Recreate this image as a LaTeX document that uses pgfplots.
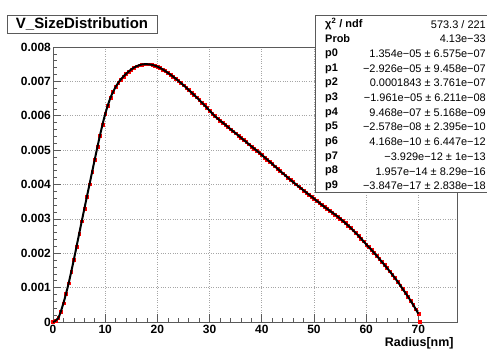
\documentclass[border=0pt]{standalone}
\usepackage{pgfplots}
\usepackage{pgfplotstable}
\pgfplotsset{compat=1.18}
\usepackage{fontspec}
\setmainfont{Liberation Sans}
\pgfplotstableread{
x y
0 0.00
0.5 0.03
1 0.12
1.5 0.30
2 0.55
2.5 0.83
3 1.13
3.5 1.46
4 1.82
4.5 2.19
5 2.56
5.5 2.93
6 3.29
6.5 3.65
7 4.01
7.5 4.37
8 4.73
8.5 5.09
9 5.43
9.5 5.75
10 6.05
10.5 6.30
11 6.52
11.5 6.70
12 6.84
12.5 6.96
13 7.06
13.5 7.14
14 7.22
14.5 7.29
15 7.35
15.5 7.40
16 7.44
16.5 7.47
17 7.49
17.5 7.50
18 7.50
18.5 7.50
19 7.48
19.5 7.46
20 7.43
20.5 7.39
21 7.35
21.5 7.30
22 7.25
22.5 7.20
23 7.14
23.5 7.08
24 7.02
24.5 6.96
25 6.89
25.5 6.82
26 6.75
26.5 6.68
27 6.61
27.5 6.54
28 6.46
28.5 6.39
29 6.31
29.5 6.23
30 6.15
30.5 6.07
31 5.99
31.5 5.93
32 5.86
32.5 5.80
33 5.74
33.5 5.67
34 5.61
34.5 5.55
35 5.49
35.5 5.42
36 5.36
36.5 5.30
37 5.24
37.5 5.17
38 5.11
38.5 5.05
39 4.99
39.5 4.92
40 4.86
40.5 4.79
41 4.73
41.5 4.66
42 4.60
42.5 4.53
43 4.46
43.5 4.40
44 4.33
44.5 4.27
45 4.20
45.5 4.14
46 4.07
46.5 4.01
47 3.95
47.5 3.89
48 3.83
48.5 3.77
49 3.71
49.5 3.65
50 3.59
50.5 3.53
51 3.47
51.5 3.41
52 3.35
52.5 3.30
53 3.24
53.5 3.18
54 3.13
54.5 3.07
55 3.01
55.5 2.95
56 2.88
56.5 2.81
57 2.74
57.5 2.67
58 2.59
58.5 2.51
59 2.43
59.5 2.35
60 2.26
60.5 2.18
61 2.10
61.5 2.02
62 1.93
62.5 1.84
63 1.75
63.5 1.66
64 1.57
64.5 1.48
65 1.38
65.5 1.28
66 1.18
66.5 1.07
67 0.96
67.5 0.85
68 0.74
68.5 0.62
69 0.50
69.5 0.37
70 0.24
70.2 0.00
}\datatable
\pgfplotstableread{
x y
0 0.00
1 0.11
2 0.55
3 1.13
4 1.82
5 2.56
6 3.29
7 4.01
8 4.73
9 5.43
10 6.05
11 6.52
12 6.84
13 7.06
14 7.22
15 7.35
16 7.44
17 7.49
18 7.50
19 7.48
20 7.43
21 7.35
22 7.25
23 7.14
24 7.02
25 6.89
26 6.75
27 6.61
28 6.46
29 6.31
30 6.15
31 5.99
32 5.86
33 5.74
34 5.61
35 5.49
36 5.36
37 5.24
38 5.11
39 4.99
40 4.86
41 4.73
42 4.60
43 4.46
44 4.33
45 4.20
46 4.07
47 3.95
48 3.83
49 3.71
50 3.59
51 3.47
52 3.35
53 3.24
54 3.13
55 3.01
56 2.88
57 2.74
58 2.59
59 2.43
60 2.26
61 2.10
62 1.93
63 1.75
64 1.57
65 1.38
66 1.18
67 0.96
68 0.74
69 0.50
70 0.24
}\fittable
\definecolor{framegray}{RGB}{90,90,90}
\pgfplotsset{myaxis/.style={
  at={(53bp,27bp)}, anchor=south west,
  scale only axis, width=404bp, height=275bp,
  xmin=0, xmax=77.4, ymin=0, ymax=8,
  clip=false}}
\begin{document}
\begin{tikzpicture}[x=1bp,y=1bp]
\useasboundingbox (0,0) rectangle (487,349);
\fill[white] (0,0) rectangle (487,349);
\begin{scope}
\clip (0,0) rectangle (487,349);
\begin{axis}[
  myaxis,
  xtick={0,10,20,30,40,50,60,70},
  xticklabels={0,10,20,30,40,50,60,70},
  ytick={0,1,2,3,4,5,6,7,8},
  yticklabels={0,0.001,0.002,0.003,0.004,0.005,0.006,0.007,0.008},
  minor x tick num=4, minor y tick num=4,
  tick pos=left, tick align=inside,
  major tick length=8bp, minor tick length=4bp,
  every tick/.style={framegray, line width=0.6bp},
  axis line style={framegray, line width=0.9bp},
  grid=major,
  major grid style={gray!70, dotted, line width=0.6bp},
  ticklabel style={font=\fontsize{12}{13}\selectfont\bfseries},
  yticklabel style={inner sep=2bp},
  xticklabel style={inner sep=3bp},
]
\addplot[only marks, mark=square*, mark size=1.4bp, red, mark options={draw=red, fill=red}] table[x=x,y=y] {\datatable};
\end{axis}
\begin{axis}[myaxis, hide axis]
\addplot[black, line width=2bp, smooth] table[x=x,y=y] {\fittable};
\end{axis}
% title box
\draw[framegray, line width=0.8bp, fill=white] (7,316) rectangle (157,334);
\node[font=\fontsize{15}{16}\selectfont\bfseries] at (82,325) {V\_SizeDistribution};
% x label
\node[anchor=base east, font=\fontsize{12.5}{13}\selectfont\bfseries] at (457,3) {Radius[nm]};
% stats box
\draw[framegray, line width=0.8bp, fill=white] (315,157) rectangle (500,334);
\begin{scope}[every node/.style={font=\fontsize{11}{12}\selectfont, inner sep=0pt}]
\node[anchor=west] at (325,324.7) {\textbf{χ\textsuperscript{2} / ndf}};
\node[anchor=east] at (486,324.7) {573.3 / 221};
\node[anchor=west] at (325,310.0) {\textbf{Prob}};
\node[anchor=east] at (486,310.0) {4.13e−33};
\node[anchor=west] at (325,295.3) {\textbf{p0}};
\node[anchor=east] at (486,295.3) {1.354e−05 ± 6.575e−07};
\node[anchor=west] at (325,280.6) {\textbf{p1}};
\node[anchor=east] at (486,280.6) {−2.926e−05 ± 9.458e−07};
\node[anchor=west] at (325,265.9) {\textbf{p2}};
\node[anchor=east] at (486,265.9) {0.0001843 ± 3.761e−07};
\node[anchor=west] at (325,251.2) {\textbf{p3}};
\node[anchor=east] at (486,251.2) {−1.961e−05 ± 6.211e−08};
\node[anchor=west] at (325,236.5) {\textbf{p4}};
\node[anchor=east] at (486,236.5) {9.468e−07 ± 5.168e−09};
\node[anchor=west] at (325,221.8) {\textbf{p5}};
\node[anchor=east] at (486,221.8) {−2.578e−08 ± 2.395e−10};
\node[anchor=west] at (325,207.1) {\textbf{p6}};
\node[anchor=east] at (486,207.1) {4.168e−10 ± 6.447e−12};
\node[anchor=west] at (325,192.4) {\textbf{p7}};
\node[anchor=east] at (486,192.4) {−3.929e−12 ± 1e−13};
\node[anchor=west] at (325,177.7) {\textbf{p8}};
\node[anchor=east] at (486,177.7) {1.957e−14 ± 8.29e−16};
\node[anchor=west] at (325,163.0) {\textbf{p9}};
\node[anchor=east] at (486,163.0) {−3.847e−17 ± 2.838e−18};
\end{scope}
\end{scope}
\end{tikzpicture}
\end{document}
